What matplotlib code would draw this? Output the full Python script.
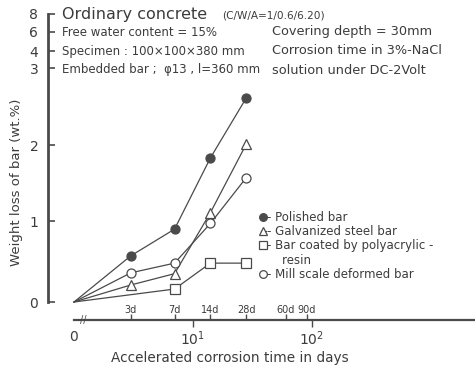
import numpy as np
import matplotlib.pyplot as plt
from matplotlib.lines import Line2D

# Data (day "0" is drawn at 1 on the log axis)
days = [1, 3, 7, 14, 28]
polished = [0.0, 0.57, 0.90, 1.83, 2.61]
galvanized = [0.0, 0.21, 0.35, 1.11, 2.01]
coated_days = [1, 7, 14, 28]
coated = [0.0, 0.16, 0.48, 0.48]
mill_scale = [0.0, 0.36, 0.48, 0.97, 1.57]

y_ticks = [0, 1, 2, 3, 4, 6, 8]
day_ticks = [3, 7, 14, 28, 60, 90]
day_labels = ["3d", "7d", "14d", "28d", "60d", "90d"]

W, H = 475, 367
INK = "#3c3c3c"
LINE = "#4a4a4a"

# Broken y axis: linear from 0 to 3, compressed above 3
y_knots = np.array([-10, 0, 1, 2, 3, 4, 6, 8, 20])
d_knots = np.array([-10, 0, 1.025, 1.987, 2.962, 3.177, 3.418, 3.646, 5.0])


def y_forward(y):
    return np.interp(y, y_knots, d_knots)


def y_inverse(d):
    return np.interp(d, d_knots, y_knots)


def fx(px):
    return px / W


def fy(py):
    return 1 - py / H


plt.rcParams["font.family"] = ["DejaVu Sans"]
plt.rcParams["text.color"] = INK

fig = plt.figure(figsize=(W / 100, H / 100), dpi=100)
ax = fig.add_axes([fx(48), 47 / H, 1 - fx(48), 310 / H])

# Plot the four series
style = dict(color=LINE, linewidth=0.9, markersize=6.5, markevery=slice(1, None),
             markeredgewidth=0.9, markeredgecolor=LINE)
l1, = ax.plot(days, polished, marker="o", markerfacecolor=LINE, **style)
l2, = ax.plot(days, galvanized, marker="^", markerfacecolor="white", **style)
l3, = ax.plot(coated_days, coated, marker="s", markerfacecolor="white", **style)
l4, = ax.plot(days, mill_scale, marker="o", markerfacecolor="white", **style)

# Scales and limits
ax.set_xscale("log")
ax.set_yscale("function", functions=(y_forward, y_inverse))
ax.set_xlim(10 ** (-(74 - 48) / 119), 10 ** ((475 - 74) / 119))
ax.set_ylim(y_inverse(-18 / 79), y_inverse((302 - 10) / 79))

# Spines
for side in ["top", "right"]:
    ax.spines[side].set_visible(False)
ax.spines["left"].set_bounds(0, 8)
ax.spines["left"].set_linewidth(2.0)
ax.spines["left"].set_color(LINE)
ax.spines["bottom"].set_bounds(1, ax.get_xlim()[1])
ax.spines["bottom"].set_linewidth(1.6)
ax.spines["bottom"].set_color(LINE)

# Y ticks
ax.set_yticks(y_ticks)
ax.set_yticklabels([str(t) for t in y_ticks])
ax.yaxis.set_minor_locator(plt.NullLocator())
ax.tick_params(axis="y", direction="in", length=5, width=1.2, color=LINE,
               labelsize=10, labelcolor=INK, pad=7)

# X ticks: decades below, day marks above the line
ax.set_xticks([1, 10, 100])
ax.set_xticklabels(["0", "$10^1$", "$10^2$"])
ax.tick_params(axis="x", which="major", direction="out", length=5, width=1.0,
               color=LINE, labelsize=10, labelcolor=INK, pad=2)
ax.xaxis.get_major_ticks()[0].tick1line.set_visible(False)
ax.set_xticks([1] + day_ticks, minor=True)
ax.set_xticklabels([""] + day_labels, minor=True)
ax.tick_params(axis="x", which="minor", direction="in", length=4, width=1.0,
               color=LINE, labelsize=7, labelcolor=INK, pad=-11)

# Axis break mark
ax.text(1.2, 0, "//", transform=ax.get_xaxis_transform(), ha="center",
        va="center", fontsize=7, color=LINE)

fig.text(fx(230), fy(358), "Accelerated corrosion time in days",
         ha="center", va="center", fontsize=9.8, color=INK)
fig.text(fx(17), fy(182), "Weight loss of bar (wt.%)", rotation=90,
         ha="center", va="center", fontsize=9.5, color=INK)

# Header text
fig.text(fx(62), fy(14), "Ordinary concrete", fontsize=11.5, va="center")
fig.text(fx(222), fy(15), "(C/W/A=1/0.6/6.20)", fontsize=7.6, va="center")
left_notes = ["Free water content = 15%", "Specimen : 100×100×380 mm",
              "Embedded bar ;  φ13 , l=360 mm"]
right_notes = ["Covering depth = 30mm", "Corrosion time in 3%-NaCl",
               "solution under DC-2Volt"]
for i, (a, b) in enumerate(zip(left_notes, right_notes)):
    yy = 32 + i * 19
    fig.text(fx(62), fy(yy), a, fontsize=8.5, va="center")
    fig.text(fx(272), fy(yy), b, fontsize=9.3, va="center")

# Legend (second line of the coated-bar label as its own row)
blank = Line2D([], [], linestyle="none")
ax.legend([l1, l2, l3, blank, l4],
          ["- Polished bar", "- Galvanized steel bar",
           "- Bar coated by polyacrylic -", "    resin",
           "- Mill scale deformed bar"],
          loc="upper left", bbox_to_anchor=(fx(261), fy(211)),
          bbox_transform=fig.transFigure, frameon=False, handlelength=0.4,
          handletextpad=0.1, borderpad=0, borderaxespad=0, labelspacing=0.1,
          fontsize=8.5, markerscale=0.85, labelcolor=INK)

fig.savefig("out.png", dpi=100)
